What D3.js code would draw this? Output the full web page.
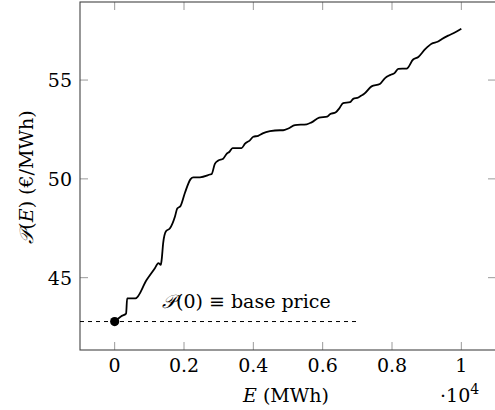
<!DOCTYPE html>
<html>
<head>
<meta charset="utf-8">
<script src="https://cdn.jsdelivr.net/npm/d3@7"></script>
<style>
  html, body { margin: 0; padding: 0; background: #fff; }
  #chart text { font-family: "DejaVu Serif"; }
</style>
</head>
<body>
<svg id="chart" width="495" height="410"></svg>
<script>
// ---- data ----
const energy = [0, 180, 330, 360, 600, 920, 1160, 1260, 1330, 1355, 1400, 1480, 1595, 1740, 1805, 1900, 2030, 2190, 2270, 2460, 2750, 2800, 2890, 2990, 3130, 3230, 3305, 3400, 3660, 3760, 3900, 4000, 4140, 4270, 4480, 4770, 4860, 5010, 5200, 5540, 5680, 5900, 6130, 6210, 6380, 6480, 6590, 6790, 6880, 7030, 7120, 7190, 7410, 7650, 7800, 7940, 8080, 8180, 8420, 8610, 8760, 8950, 9140, 9330, 9430, 9620, 9770, 10000];
const price  = [42.78, 43.04, 43.18, 43.95, 43.95, 44.88, 45.48, 45.74, 45.65, 45.9, 46.76, 47.35, 47.5, 48.1, 48.5, 48.63, 49.31, 49.99, 50.08, 50.08, 50.22, 50.25, 50.76, 50.93, 51.02, 51.27, 51.36, 51.56, 51.56, 51.78, 51.95, 52.13, 52.18, 52.3, 52.41, 52.46, 52.46, 52.55, 52.72, 52.76, 52.86, 53.1, 53.15, 53.27, 53.37, 53.57, 53.83, 53.88, 54.05, 54.12, 54.22, 54.29, 54.68, 54.8, 55.1, 55.25, 55.36, 55.57, 55.58, 56.04, 56.17, 56.55, 56.84, 56.95, 57.07, 57.25, 57.37, 57.6];
const basePrice = 42.78;
const baseLineEnd = 7000;
const xTicks = [0, 2000, 4000, 6000, 8000, 10000];
const xTickLabels = ["0", "0.2", "0.4", "0.6", "0.8", "1"];
const yTicks = [45, 50, 55];
const yTickLabels = ["45", "50", "55"];
const xTitle = "(MWh)";
const yTitle = "(\u20AC/MWh)";
const annotation = "\u2261 base price";

// ---- layout ----
const svg = d3.select("#chart");
const L = 80, R = 496, T = 2, B = 350;
const x = d3.scaleLinear().domain([-1000, 11000]).range([L, R]);
const y = d3.scaleLinear().domain([41.34, 58.95]).range([B, T]);
const FS = 19;

const tickLen = 8;
const tickColor = "#9a9a9a";

// ticks (inward, all four sides)
const g = svg.append("g");
xTicks.forEach(v => {
  g.append("line").attr("x1", x(v)).attr("x2", x(v)).attr("y1", B).attr("y2", B - tickLen)
    .attr("stroke", tickColor).attr("stroke-width", 1);
  g.append("line").attr("x1", x(v)).attr("x2", x(v)).attr("y1", T).attr("y2", T + tickLen)
    .attr("stroke", tickColor).attr("stroke-width", 1);
});
yTicks.forEach(v => {
  g.append("line").attr("x1", L).attr("x2", L + tickLen).attr("y1", y(v)).attr("y2", y(v))
    .attr("stroke", tickColor).attr("stroke-width", 1);
  g.append("line").attr("x1", R).attr("x2", R - tickLen).attr("y1", y(v)).attr("y2", y(v))
    .attr("stroke", tickColor).attr("stroke-width", 1);
});

// axis box
svg.append("rect").attr("x", L).attr("y", T).attr("width", R - L).attr("height", B - T)
  .attr("fill", "none").attr("stroke", "#444").attr("stroke-width", 1.1);

// tick labels
xTicks.forEach((v, i) => {
  svg.append("text").attr("x", x(v)).attr("y", 371.5).attr("text-anchor", "middle")
    .attr("font-size", FS).text(xTickLabels[i]);
});
yTicks.forEach((v, i) => {
  svg.append("text").attr("x", 72).attr("y", y(v) + 7).attr("text-anchor", "end")
    .attr("font-size", FS).text(yTickLabels[i]);
});

// x title
const xt = svg.append("text").attr("x", 286).attr("y", 401.5).attr("text-anchor", "middle").attr("font-size", FS);
xt.append("tspan").attr("font-style", "italic").text("E");
xt.append("tspan").text(" " + xTitle);

// x scale factor
const sf = svg.append("text").attr("x", 440).attr("y", 401.5).attr("font-size", FS);
sf.append("tspan").text("\u00B710");
sf.append("tspan").attr("font-size", 14).attr("dy", -8).text("4");

// y title
const yt = svg.append("text").attr("transform", "translate(33,177) rotate(-90)")
  .attr("text-anchor", "middle").attr("font-size", FS);
yt.append("tspan").attr("font-style", "italic").text("\uD835\uDCAB");
yt.append("tspan").text("(");
yt.append("tspan").attr("font-style", "italic").text("E");
yt.append("tspan").text(") " + yTitle);

// dashed base line
svg.append("line").attr("x1", L).attr("x2", x(baseLineEnd)).attr("y1", y(basePrice)).attr("y2", y(basePrice))
  .attr("stroke", "#000").attr("stroke-width", 1).attr("stroke-dasharray", "4,4");

// annotation
const an = svg.append("text").attr("x", 162).attr("y", 308).attr("font-size", FS);
an.append("tspan").attr("font-style", "italic").text("\uD835\uDCAB");
an.append("tspan").text("(0) " + annotation);

// curve
const data = energy.map((e, i) => ({ e, p: price[i] }));
svg.append("path").datum(data)
  .attr("d", d3.line().x(d => x(d.e)).y(d => y(d.p)).curve(d3.curveMonotoneX))
  .attr("fill", "none").attr("stroke", "#000").attr("stroke-width", 1.8)
  .attr("stroke-linejoin", "round");

// marker
svg.append("circle").attr("cx", x(0)).attr("cy", y(basePrice)).attr("r", 4.6).attr("fill", "#000");
</script>
</body>
</html>
